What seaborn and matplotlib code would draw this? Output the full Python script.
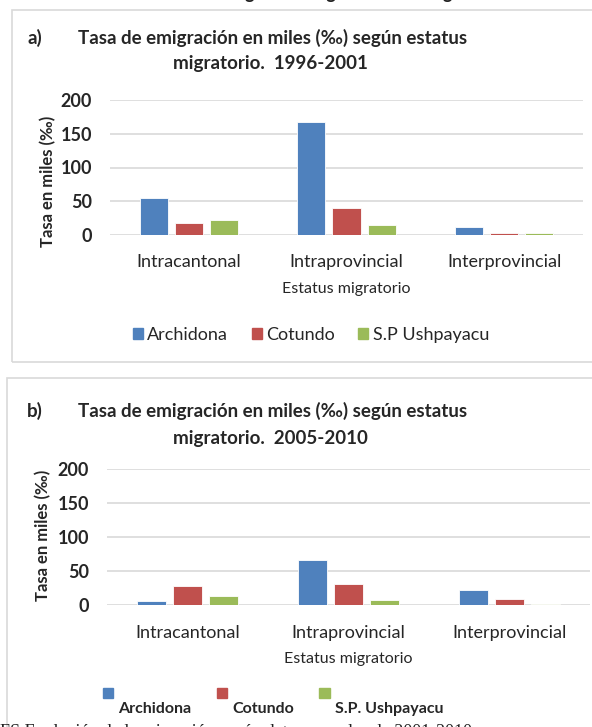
import numpy as np
import pandas as pd
import seaborn as sns
import matplotlib.pyplot as plt
import matplotlib.patches as mpatches
from matplotlib.legend_handler import HandlerPatch

estatus = ["Intracantonal", "Intraprovincial", "Interprovincial"]
cantones_a = ["Archidona", "Cotundo", "S.P Ushpayacu"]
cantones_b = ["Archidona", "Cotundo", "S.P. Ushpayacu"]

# tasa en miles, periodo 1996-2001
archidona_a = [55, 167, 12]
cotundo_a = [17, 39, 2]
ushpayacu_a = [22, 15, 3]

# tasa en miles, periodo 2005-2010
archidona_b = [7, 66, 22]
cotundo_b = [28, 31, 9]
ushpayacu_b = [13, 8, 2]

colores = ["#4F81BD", "#C0504D", "#9BBB59"]
gris = "#D9D9D9"

sns.set_theme(style="white")
plt.rcParams["font.family"] = ["Lato", "DejaVu Sans"]


def tabla(cantones, *series):
    filas = []
    for canton, vals in zip(cantones, series):
        for e, v in zip(estatus, vals):
            filas.append(dict(estatus=e, canton=canton, tasa=v))
    return pd.DataFrame(filas)


df_a = tabla(cantones_a, archidona_a, cotundo_a, ushpayacu_a)
df_b = tabla(cantones_b, archidona_b, cotundo_b, ushpayacu_b)

W, H = 592, 727
fig = plt.figure(figsize=(W / 100, H / 100), dpi=100)


def fx(px):
    return px / W


def fy(py):
    return 1 - py / H


# marcos de los dos graficos
fig.patches.append(mpatches.Rectangle((fx(12), fy(362)), fx(600), 352 / H, transform=fig.transFigure,
                                      fill=False, edgecolor=gris, lw=1.2))
fig.patches.append(mpatches.Rectangle((fx(7), fy(740)), fx(600), 362 / H, transform=fig.transFigure,
                                      fill=False, edgecolor=gris, lw=1.2))


def grafico(ax, df, cantones, ylab_xy, xlab_y):
    sns.barplot(data=df, x="estatus", y="tasa", hue="canton", order=estatus, hue_order=cantones,
                palette=colores, width=0.67, gap=0.2, saturation=1, ax=ax, legend=False,
                edgecolor="white", linewidth=0.6)
    ax.set_ylim(0, 200)
    ax.set_xlim(-0.5, 2.5)
    ax.set_yticks([0, 50, 100, 150, 200])
    ax.yaxis.grid(True, color=gris, lw=1.2)
    ax.set_axisbelow(True)
    sns.despine(ax=ax, left=True, bottom=True)
    ax.tick_params(axis="y", length=0, pad=13, labelsize=13)
    ax.tick_params(axis="x", length=0, pad=14, labelsize=13)
    for t in ax.get_yticklabels():
        t.set_fontweight("bold")
    ax.set_ylabel("Tasa en miles (‰)", fontsize=12, fontweight="bold")
    ax.yaxis.set_label_coords(*ylab_xy)
    ax.set_xlabel("Estatus migratorio", fontsize=11.5)
    ax.xaxis.set_label_coords(0.5, xlab_y)
    ax.xaxis.label.set_va("center")
    ax.yaxis.label.set_va("center")


ax_a = fig.add_axes([fx(110), fy(234.7), 473 / W, 134.4 / H])
grafico(ax_a, df_a, cantones_a, (-0.131, 0.40), -0.404)
ax_b = fig.add_axes([fx(107), fy(605.3), 483 / W, 136 / H])
grafico(ax_b, df_b, cantones_b, (-0.1325, 0.517), -0.395)

# titulos
for y1, y2, letra, periodo in [(38, 64, "a)", "1996-2001"), (411, 439, "b)", "2005-2010")]:
    fig.text(fx(27), fy(y1), letra, fontsize=13.5, fontweight="bold", va="center")
    fig.text(fx(273), fy(y1), "Tasa de emigración en miles (‰) según estatus", fontsize=13.5,
             fontweight="bold", ha="center", va="center")
    fig.text(fx(270), fy(y2), "migratorio.  " + periodo, fontsize=13.5, fontweight="bold",
             ha="center", va="center")

# leyenda a
handles_a = [mpatches.Patch(color=c, label=l) for c, l in zip(colores, cantones_a)]
fig.legend(handles=handles_a, loc="center", bbox_to_anchor=(fx(311), fy(335)), ncol=3,
           frameon=False, fontsize=13, handlelength=0.55, handleheight=0.55,
           handletextpad=0.25, columnspacing=1.3)


# leyenda b: cuadros elevados respecto al texto
def cuadro_alto(legend, orig_handle, xdescent, ydescent, width, height, fontsize):
    return mpatches.Rectangle((-xdescent, -ydescent + 1.4 * height), width, height * 1.05)


handles_b = [mpatches.Patch(color=c, label=l) for c, l in zip(colores, cantones_b)]
fig.legend(handles=handles_b, loc="center", bbox_to_anchor=(fx(273), fy(709)), ncol=3,
           frameon=False, handlelength=0.65, handleheight=0.6,
           handletextpad=0.3, columnspacing=1.6, prop=dict(weight="bold", size=11.5),
           handler_map={mpatches.Patch: HandlerPatch(patch_func=cuadro_alto)})

# textos cortados del documento
fig.text(fx(150), 1 + 1 / H, "Tasa de emigración según estatus migratorio", fontsize=13,
         fontweight="bold", va="baseline", color="#222222")
fig.text(0, fy(737), "FS Evolución de la migración según datos censales de 2001-2010",
         fontsize=13, family="Liberation Serif", va="baseline", color="#222222")

fig.savefig("out.png", dpi=100)
